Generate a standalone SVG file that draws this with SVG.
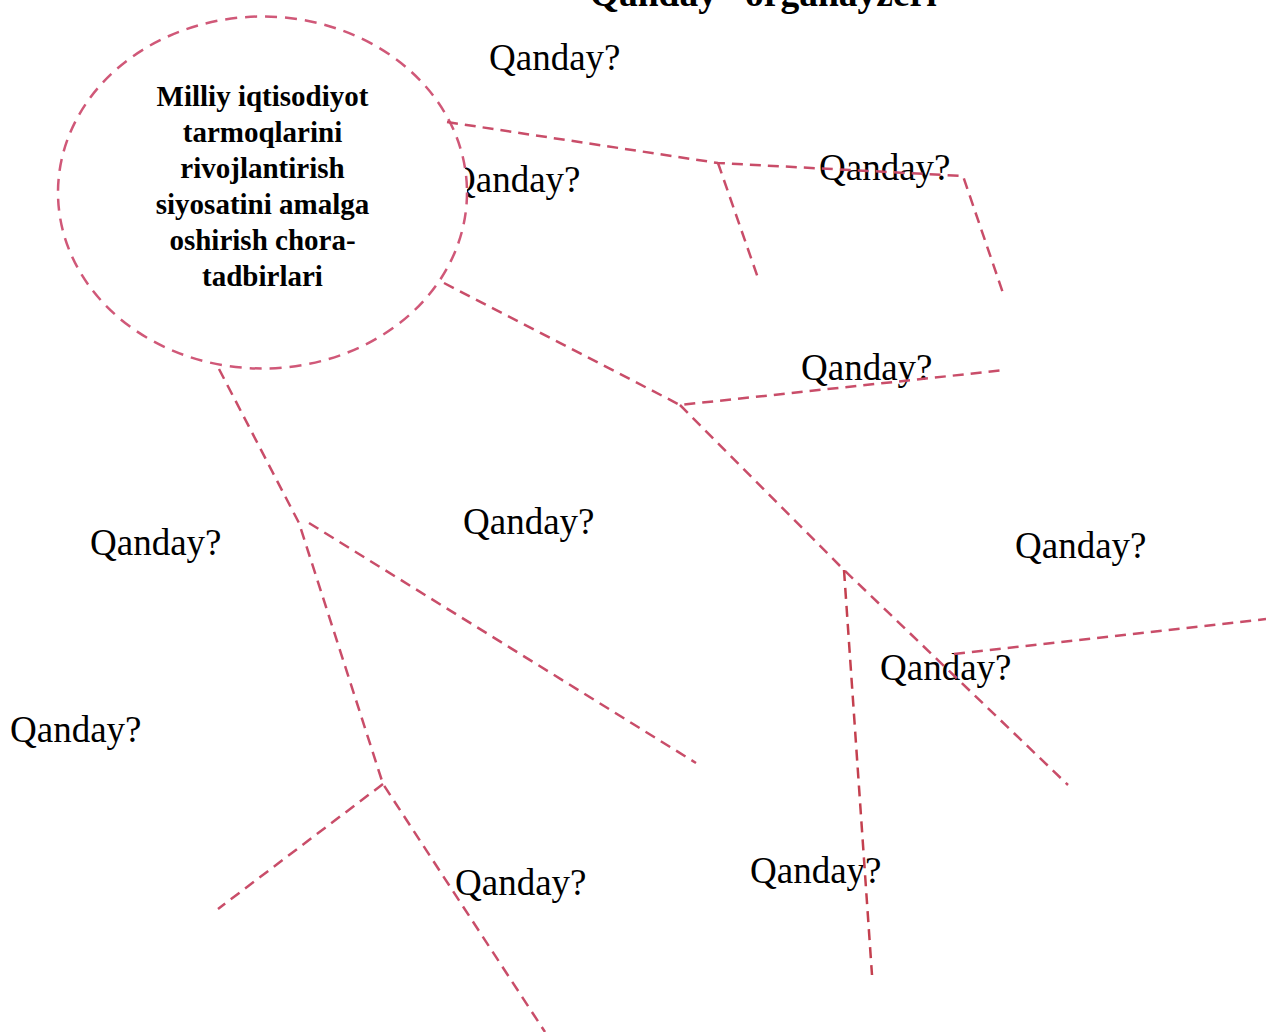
<svg xmlns="http://www.w3.org/2000/svg" width="1266" height="1032" viewBox="0 0 1266 1032">
<style>
.q{font-family:"Liberation Serif","Times New Roman",serif;font-size:37px;fill:#000}
.t{font-family:"Liberation Serif","Times New Roman",serif;font-size:37.5px;font-weight:bold;fill:#000}
.c{font-family:"Liberation Serif","Times New Roman",serif;font-size:29px;font-weight:bold;fill:#000;text-anchor:middle}
.ln{fill:none;stroke:#c94d69;stroke-width:2.5;stroke-dasharray:11 7;stroke-linejoin:miter}
.lr{fill:none;stroke:#c4404f;stroke-width:2.5;stroke-dasharray:11 7}
</style>
<rect width="1266" height="1032" fill="#fff"/>
<g id="title"><text class="t" x="571" y="6">“Qanday” organayzeri</text></g>
<g id="labels">
<text class="q" x="489" y="70">Qanday?</text>
<text class="q" x="449" y="192">Qanday?</text>
<text class="q" x="819" y="180">Qanday?</text>
<text class="q" x="801" y="380">Qanday?</text>
<text class="q" x="463" y="534">Qanday?</text>
<text class="q" x="90" y="555">Qanday?</text>
<text class="q" x="1015" y="558">Qanday?</text>
<text class="q" x="880" y="680">Qanday?</text>
<text class="q" x="10" y="742">Qanday?</text>
<text class="q" x="455" y="895">Qanday?</text>
<text class="q" x="750" y="883">Qanday?</text>
</g>
<g id="center">
<ellipse cx="262.5" cy="192.5" rx="204.5" ry="176" fill="#fff" stroke="#d05878" stroke-width="2.5" stroke-dasharray="12 8"/>
<text class="c" x="262.5" y="105.5">Milliy iqtisodiyot</text>
<text class="c" x="262.5" y="141.5">tarmoqlarini</text>
<text class="c" x="262.5" y="177.5">rivojlantirish</text>
<text class="c" x="262.5" y="213.5">siyosatini amalga</text>
<text class="c" x="262.5" y="249.5">oshirish chora-</text>
<text class="c" x="262.5" y="285.5">tadbirlari</text>
</g>
<g id="connectors">
<polyline class="ln" points="447,122 718,163 963,176 1003,293"/>
<line class="ln" x1="718" y1="163" x2="758" y2="278"/>
<polyline class="ln" points="444,283 680,405 1005,370"/>
<polyline class="ln" points="680,405 844,570 1068,785"/>
<line class="ln" x1="954" y1="654" x2="1266" y2="619"/>
<line class="lr" x1="844" y1="570" x2="872" y2="975"/>
<polyline class="ln" points="219,369 299,523 383,784 545,1032"/>
<line class="ln" x1="309" y1="523" x2="696" y2="763"/>
<line class="ln" x1="383" y1="784" x2="218" y2="909"/>
</g>
</svg>
